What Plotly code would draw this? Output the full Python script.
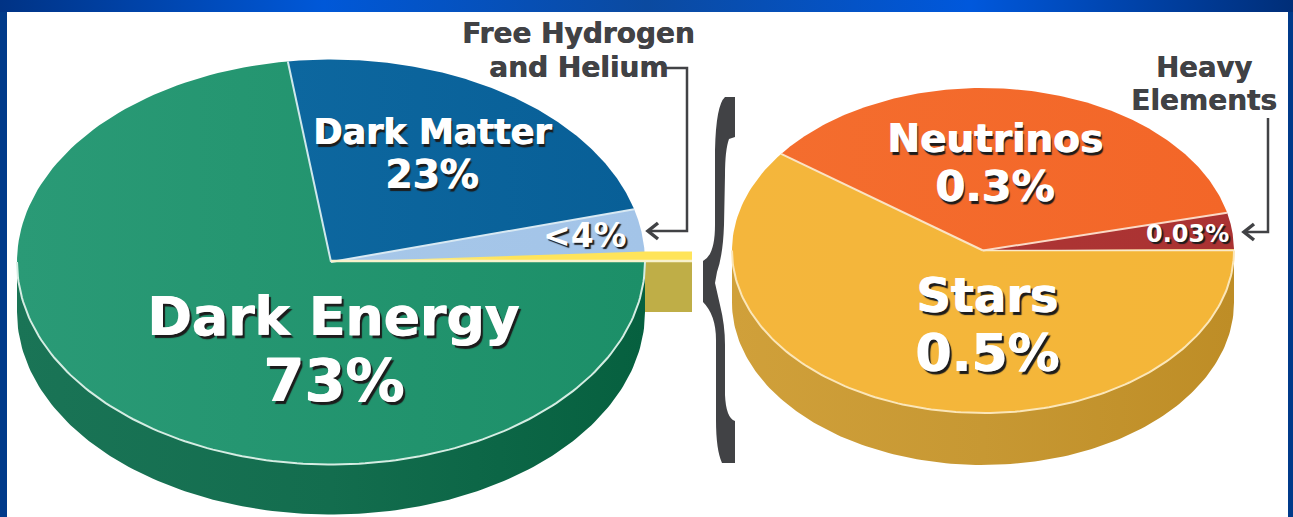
import numpy as np
import plotly.graph_objects as go

W, H = 1293, 517

# --- data ---
cosmic_labels = ["Free Hydrogen and Helium", "Dark Matter", "Dark Energy"]
cosmic_values = [4, 23, 73]
cosmic_text = ["<4%", "23%", "73%"]
visible_labels = ["Heavy Elements", "Neutrinos", "Stars"]
visible_values = [0.03, 0.3, 0.5]
visible_text = ["0.03%", "0.3%", "0.5%"]

# --- styles ---
FONT = "DejaVu Sans"
DARK = "#414245"
cosmic_top = [("#A6C7E9", "#A3C4E8"), ("#0D679F", "#085F97"), ("#2A9A76", "#1C8F68")]
visible_top = [("#AD3534", "#AA3232"), ("#F46D2E", "#F36628"), ("#F4B63C", "#F4B638")]
P1 = dict(cx=331, cy=262, rx=314, ry=202.5, depth=50)
P2 = dict(cx=983, cy=250.5, rx=251, ry=162.5, depth=52)

fig = go.Figure()


def arc(p, a0, a1, dy=0, n=160):
    t = np.radians(np.linspace(a0, a1, n))
    return p["cx"] + p["rx"] * np.cos(t), p["cy"] - p["ry"] * np.sin(t) + dy


def grad_poly(x, y, stops):
    scale = [[i / (len(stops) - 1), c] for i, c in enumerate(stops)]
    fig.add_trace(go.Scatter(x=list(x), y=list(y), mode="lines", fill="toself",
                             line=dict(width=0), hoverinfo="skip",
                             fillgradient=dict(type="horizontal", colorscale=scale)))


def line(x, y, color, width=2):
    fig.add_trace(go.Scatter(x=list(x), y=list(y), mode="lines", hoverinfo="skip",
                             line=dict(color=color, width=width)))


def side(p, stops):
    x1, y1 = arc(p, 180, 360)
    x2, y2 = arc(p, 360, 180, p["depth"])
    grad_poly(np.r_[x1, x2], np.r_[y1, y2], stops)


def pie_top(p, values, colors, start=0.0):
    total = sum(values)
    a = start
    edges = [a]
    for v, c in zip(values, colors):
        b = a + 360.0 * v / total
        x, y = arc(p, a, b)
        grad_poly(np.r_[p["cx"], x, p["cx"]], np.r_[p["cy"], y, p["cy"]], c)
        a = b
        edges.append(a)
    return edges


def spoke(p, ang, color, width=2):
    x, y = arc(p, ang, ang, n=2)
    line([p["cx"], x[0]], [p["cy"], y[0]], color, width)


# frame strip across the top
grad_poly([0, W, W, 0, 0], [0, 0, 12, 12, 0],
          ["#003385", "#0058D8", "#0B4AA0", "#0058DC", "#002E78"])

# left pie
side(P1, ["#1A7456", "#136D4E", "#06603F"])
# connector block beneath the yellow band
connector_x = 692
grad_poly([P1["cx"] + P1["rx"], connector_x, connector_x, P1["cx"] + P1["rx"]],
          [P1["cy"], P1["cy"], P1["cy"] + P1["depth"], P1["cy"] + P1["depth"]], ["#BFAE47", "#BFAE47"])
e1 = pie_top(P1, cosmic_values, cosmic_top, start=0.7)
rx, ry = arc(P1, 180, 360)
line(rx, ry, "#D5EDE3", 2)
spoke(P1, e1[1], "#D8E9F3", 2)
spoke(P1, e1[2], "#CFE8EC", 2)

# yellow wedge = share of the right-hand pie
yellow = 360.0 * sum(visible_values) / 100
yx, yy = arc(P1, 0, yellow, n=2)
grad_poly([P1["cx"], connector_x, connector_x, yx[-1], P1["cx"]],
          [P1["cy"], P1["cy"], yy[-1], yy[-1], P1["cy"]],
          ["#F7EEB0", "#FFE45A", "#FFE45A"])
line([P1["cx"], connector_x], [P1["cy"] - 1, P1["cy"] - 1], "#F8F2CC", 2.5)

# right pie
side(P2, ["#D0A03A", "#C79833", "#BE8D26"])
e2 = pie_top(P2, visible_values, visible_top, start=0.4)
rx, ry = arc(P2, 180, 360)
line(rx, ry, "#FBE6B8", 2)
spoke(P2, e2[1], "#FBD9C6", 2)
spoke(P2, e2[2], "#FBE3C4", 2)
line([P2["cx"], P2["cx"] + P2["rx"]], [P2["cy"], P2["cy"]], "#FBE9C8", 1.5)

# leader lines
line([664, 687, 687, 650], [68, 68, 231, 231], DARK, 2.5)
line([658, 648, 658], [223, 231, 239], DARK, 3.5)
line([1268, 1268, 1245], [118, 232, 232], DARK, 2.5)
line([1254, 1244, 1254], [224, 232, 240], DARK, 3.5)

# brace
brace = ("M 725 97 L 735 97 L 735 137 L 729 139 Q 725 150 725 175 L 724 225 Q 723 255 717 272 "
         "L 715 283 L 720 305 Q 725 325 725 345 L 725 395 Q 726 418 735 421 L 735 463 L 722 463 "
         "Q 716 450 716 420 L 716 340 Q 716 315 703 302 L 703 261 Q 715 255 715 225 L 715 150 "
         "Q 716 105 725 97 Z")

shadow_big = "1px 0 0 #fff, 3px 3px 1px #1c1c1c"
shadow_mid = "1px 0 0 #fff, 2px 3px 1px #1c1c1c"
shadow_small = "2px 2px 1px #1c1c1c"


def label(text, x, y, size, color="white", shadow=shadow_mid):
    fig.add_annotation(x=x, y=y, text=text, showarrow=False, xanchor="center", yanchor="middle",
                       font=dict(family=FONT, size=size, color=color, weight=700, shadow=shadow))


label(cosmic_labels[2], 333, 316, 53.6, shadow=shadow_big)
label(cosmic_text[2], 333, 380, 59, shadow=shadow_big)
label(cosmic_labels[1], 432, 132, 35)
label(cosmic_text[1], 431, 174, 39)
label(cosmic_text[0], 585, 235, 33, shadow=shadow_small)
label("Free Hydrogen", 578, 33, 28, DARK, "0.6px 0 0 " + DARK)
label("and Helium", 578, 67, 28, DARK, "0.6px 0 0 " + DARK)
label(visible_labels[1], 995, 138, 39)
label(visible_text[1], 994, 186, 43)
label(visible_labels[2], 987, 295, 48, shadow=shadow_big)
label(visible_text[2], 987, 353, 52, shadow=shadow_big)
label(visible_text[0], 1187, 234, 24, shadow=shadow_small)
label("Heavy", 1204, 67, 27.5, DARK, "0.6px 0 0 " + DARK)
label("Elements", 1204, 100, 28, DARK, "0.6px 0 0 " + DARK)

fig.update_layout(
    width=W, height=H, autosize=False, showlegend=False,
    margin=dict(l=0, r=0, t=0, b=0),
    paper_bgcolor="#003A8A", plot_bgcolor="#003A8A",
    xaxis=dict(range=[0, W], visible=False, fixedrange=True),
    yaxis=dict(range=[H, 0], visible=False, fixedrange=True),
    shapes=[
        dict(type="rect", layer="below", x0=7, x1=W - 5, y0=12, y1=H + 5,
             fillcolor="white", line=dict(width=0)),
        dict(type="path", path=brace, layer="above", fillcolor=DARK, line=dict(width=0)),
    ],
)
fig.write_html("out.html", config=dict(displayModeBar=False),
               post_script="document.body.style.margin='0';document.body.style.overflow='hidden';")
